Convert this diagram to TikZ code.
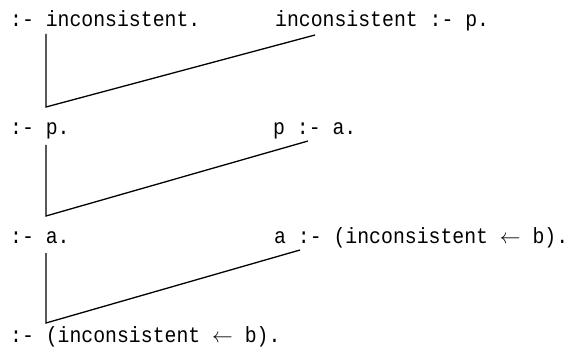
\documentclass[tikz,border=0pt]{standalone}
\usepackage{fontspec}
\setmainfont[FakeStretch=0.9]{Liberation Mono}
\usetikzlibrary{positioning}

\begin{document}
\begin{tikzpicture}[x=1pt,y=-1pt,every node/.style={inner sep=0pt,anchor=base west,font=\fontsize{22}{24}\selectfont}]
\useasboundingbox (0,0) rectangle (573,350);
% goals on the left, clauses on the right
\node (g1) at (10,27) {:- inconsistent.};
\node (g2) at (10,135) {:- p.};
\node (g3) at (10,243) {:- a.};
\node (g4) at (10,342) {:- (inconsistent $\leftarrow$ b).};
\node (c1) at (275,27) {inconsistent :- p.};
\node (c2) at (273,135) {p :- a.};
\node (c3) at (274,243) {a :- (inconsistent $\leftarrow$ b).};
\coordinate (j1) at (46,107);
\coordinate (j2) at (46,216);
\coordinate (j3) at (46,323);
\draw[line width=1.3pt] ([yshift=-7pt]g1.base -| j1) -- (j1) -- ([xshift=40pt,yshift=-8pt]c1.base west);
\draw[line width=1.3pt] ([yshift=-10pt]g2.base -| j2) -- (j2) -- ([xshift=35pt,yshift=-6pt]c2.base west);
\draw[line width=1.3pt] ([yshift=-10pt]g3.base -| j3) -- (j3) -- ([xshift=26pt,yshift=-7pt]c3.base west);
\end{tikzpicture}
\end{document}
